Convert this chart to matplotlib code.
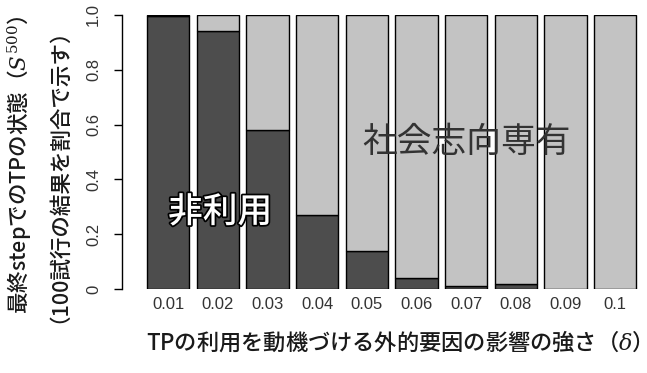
import matplotlib
matplotlib.use("Agg")
import matplotlib.pyplot as plt
import matplotlib.patheffects as pe
import numpy as np

plt.rcParams["font.family"] = ["Noto Sans CJK JP", "DejaVu Sans"]
plt.rcParams["mathtext.fontset"] = "custom"
plt.rcParams["mathtext.it"] = "DejaVu Serif:italic"
plt.rcParams["mathtext.rm"] = "DejaVu Serif"

# share of the 100 trials ending in each state
deltas = ["0.01", "0.02", "0.03", "0.04", "0.05", "0.06", "0.07", "0.08", "0.09", "0.1"]
non_use = [0.995, 0.94, 0.58, 0.27, 0.14, 0.04, 0.01, 0.02, 0.0, 0.0]
social = [1 - v for v in non_use]

dark = "#4d4d4d"
light = "#c3c3c3"

fig = plt.figure(figsize=(6.47, 3.73), dpi=100)
ax = fig.add_axes([122 / 647, 84 / 373, 525 / 647, 274 / 373])

x = np.arange(len(deltas))
ax.bar(x, non_use, width=0.85, color=dark, edgecolor="black", linewidth=1)
ax.bar(x, social, width=0.85, bottom=non_use, color=light, edgecolor="black", linewidth=1)

ax.set_xlim(-0.926, 9.64)
ax.set_ylim(0, 1)
for s in ["top", "right", "bottom"]:
    ax.spines[s].set_visible(False)
ax.spines["left"].set_linewidth(1)
ax.set_yticks([0, 0.2, 0.4, 0.6, 0.8, 1.0])
ax.set_yticklabels(["0", "0.2", "0.4", "0.6", "0.8", "1.0"], rotation=90, va="center",
                   family="Liberation Sans", fontsize=12, color="#333333")
ax.tick_params(axis="y", length=6, pad=9, width=1)
ax.set_xticks(x)
ax.set_xticklabels(deltas, family="Liberation Sans", fontsize=12, color="#333333")
ax.tick_params(axis="x", length=0, pad=6)

lab = dict(ha="center", va="center", fontsize=16, color="#1a1a1a", fontweight="medium")
fig.text(393 / 647, 1 - 342 / 373, "TPの利用を動機づける外的要因の影響の強さ（$\\delta$）", **lab)
lab["fontsize"] = 15.5
fig.text(20 / 647, 1 - 165 / 373, "最終stepでのTPの状態（$S^{500}$）", rotation=90, **lab)
fig.text(48 / 647, 1 - 165 / 373, "（100試行の結果を割合で示す）", rotation=90, **lab)

ax.text(1.05, 0.28, "非利用", ha="center", va="center", fontsize=25, color="white",
        fontweight="medium", path_effects=[pe.withStroke(linewidth=2.5, foreground="black")])
ax.text(6.0, 0.535, "社会志向専有", ha="center", va="center", fontsize=25, color="#333333")

fig.savefig("out.png", dpi=100)
